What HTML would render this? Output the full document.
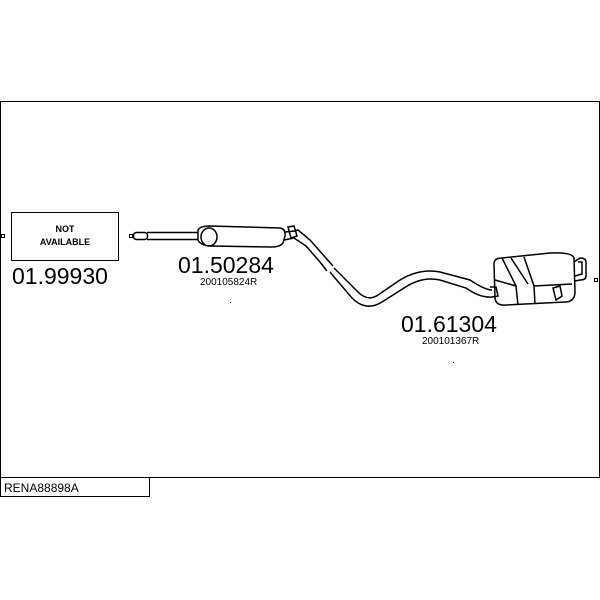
<!DOCTYPE html>
<html><head><style>
html,body{margin:0;padding:0;background:#fff;}
svg{display:block;}
text{font-family:"Liberation Sans",sans-serif;fill:#000;}
</style></head><body>
<svg width="600" height="600" viewBox="0 0 600 600">
<rect x="0.5" y="101.5" width="599" height="376" fill="none" stroke="#000" stroke-width="1"/>
<rect x="0.5" y="477.5" width="149" height="19" fill="none" stroke="#000" stroke-width="1"/>
<text x="4" y="492" font-size="12">RENA88898A</text>
<rect x="11.5" y="212.5" width="107" height="48" fill="none" stroke="#000"/>
<text x="65" y="232" font-size="9" font-weight="bold" text-anchor="middle">NOT</text>
<text x="65" y="245" font-size="9" font-weight="bold" text-anchor="middle">AVAILABLE</text>
<rect x="1.5" y="234.5" width="3" height="3" fill="none" stroke="#000"/>
<text x="12" y="284" font-size="23">01.99930</text>
<g fill="none" stroke="#000" stroke-width="1.5">
<rect x="129.5" y="234.5" width="3" height="3" stroke-width="1"/>
<rect x="133.5" y="232.5" width="14" height="7" rx="3"/>
<path d="M147 232.5 L198 232.5 M147 239.5 L198 239.5"/>
<path d="M198 230 Q200 226 210 226 L280 228 Q286 229 285 236 L283 243 Q280 247 272 247 L210 246 Q200 245 198 240 Z"/>
<ellipse cx="209" cy="237" rx="8" ry="9"/>
<path d="M285 232 L295 231 L298 230 L310 240 L325 257 M284 240 L294 238 L306 246 L320 262"/>
<path d="M288 227 L294 226 L297 236 L291 238 Z"/>
<path d="M325 257 L333 266 M320 262 L327 271"/>
<path d="M334 268 L338 272 L342 276 L358 292 Q368 302 378 295 L400 280 Q420 268 440 272 L470 280 Q485 290 492 290 M330 272 L335 278 L352 298 Q366 312 382 302 L404 288 Q422 276 440 280 L466 288 Q480 298 492 297"/>
<path d="M490 287 L496 287 L498 296 L492 297"/>
<path d="M494 264 Q494 258 502 258 L550 253 Q572 252 574 258 L575 293 Q574 302 565 302 L506 305 Q496 306 495 298 Z"/>
<path d="M502 258 L516 286 L518 305 M516 286 L495 280 M524 257 L534 286 L535 304 M534 286 L572 284 M511 258 L528 284"/>
<path d="M574 262 L580 258 Q586 258 586 262 L586 276 Q586 280 580 280 L575 281 M578 262 L582 262 L582 274 L575 276"/>
<path d="M553 288 L560 286 L562 296 L556 300 Z"/>
<rect x="594.5" y="278.5" width="3" height="3" stroke-width="1"/>
</g>
<text x="178" y="273" font-size="23">01.50284</text>
<text x="200" y="285" font-size="10">200105824R</text>
<text x="401" y="332" font-size="23">01.61304</text>
<text x="422" y="344" font-size="10">200101367R</text>
<rect x="230" y="302" width="1" height="1" fill="#000"/>
<rect x="453" y="362" width="1" height="1" fill="#000"/>
</svg>
</body></html>
